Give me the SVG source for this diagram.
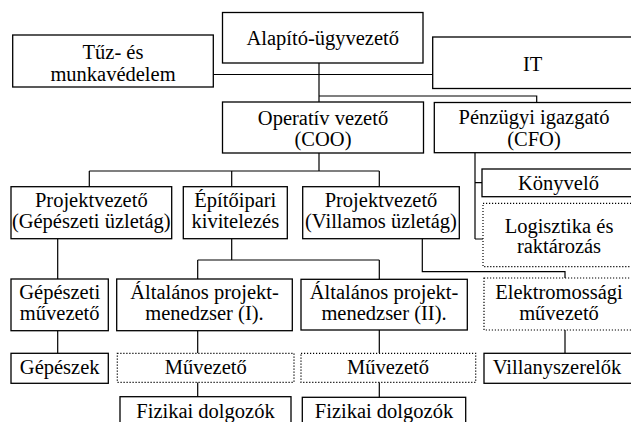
<svg xmlns="http://www.w3.org/2000/svg" width="631" height="422" viewBox="0 0 631 422">
<style>
.b{fill:#fff;stroke:#000;stroke-width:1.3}
.d{fill:#fff;stroke:#000;stroke-width:1.2;stroke-dasharray:1.2 1.8}
.t{font-size:20.5px;fill:#000;text-anchor:middle}
.c{fill:none;stroke:#000;stroke-width:1.2}
</style>
<rect width="631" height="422" fill="#fff"/>
<g id="connectors">
<path class="c" d="M213.3 74.5H432.7M319 63V102M319 96H536.7V102.5"/>
<path class="c" d="M319 153V171M89.3 171H379.3M89.3 171V186.7M231.7 171V186.7M379.3 171V186.7"/>
<path class="c" d="M475 152.7V239M475 182.7H482M475 239H483"/>
<path class="c" d="M57.7 238.7V279M57.7 330.7V353.3"/>
<path class="c" d="M231.7 238.5V260M197.7 260H379.3M197.7 260V279M379.3 260V279.3"/>
<path class="c" d="M197.7 330.7V353.3M197.7 382.3V396.7M379.3 330V353.3M379.3 382.3V397.3"/>
<path class="c" d="M422.3 238.5V271.7H565V278M565 330V353.3"/>
</g>
<g font-family="Liberation Serif, Tinos, Times New Roman, DejaVu Serif, Noto Serif, serif">
<g id="alapito"><rect class="b" x="222.5" y="12.5" width="200.5" height="50.5"/><text class="t" x="322.7" y="45">Alapító-ügyvezető</text></g>
<g id="tuz"><rect class="b" x="12.7" y="35" width="200.6" height="52"/><text class="t" x="113" y="59">Tűz- és</text><text class="t" x="113" y="80.5">munkavédelem</text></g>
<g id="it"><rect class="b" x="432.7" y="37" width="210" height="51.5"/><text class="t" x="532.7" y="71">IT</text></g>
<g id="coo"><rect class="b" x="222.5" y="102" width="201" height="51"/><text class="t" x="323" y="124.5">Operatív vezető</text><text class="t" x="323" y="146">(COO)</text></g>
<g id="cfo"><rect class="b" x="434.3" y="102.5" width="210" height="50.2"/><text class="t" x="534" y="124">Pénzügyi igazgató</text><text class="t" x="534" y="145.5">(CFO)</text></g>
<g id="pv-gep"><rect class="b" x="11" y="186.7" width="160.7" height="52"/><text class="t" x="91.3" y="206.7">Projektvezető</text><text class="t" x="91.3" y="227.5">(Gépészeti üzletág)</text></g>
<g id="epito"><rect class="b" x="183.3" y="186.7" width="104" height="52"/><text class="t" x="235.3" y="206.7">Építőipari</text><text class="t" x="235.3" y="227.5">kivitelezés</text></g>
<g id="pv-vill"><rect class="b" x="302.7" y="186.7" width="156.6" height="52"/><text class="t" x="381" y="206.7">Projektvezető</text><text class="t" x="381" y="227.5">(Villamos üzletág)</text></g>
<g id="konyvelo"><rect class="b" x="482" y="169" width="160" height="27.7"/><text class="t" x="558.5" y="190">Könyvelő</text></g>
<g id="logisztika"><rect class="d" x="483" y="203.3" width="160" height="63.4"/><text class="t" x="559" y="232.7">Logisztika és</text><text class="t" x="559" y="253.3">raktározás</text></g>
<g id="gep-muv"><rect class="b" x="11" y="279" width="97.3" height="51.7"/><text class="t" x="59.7" y="298.5">Gépészeti</text><text class="t" x="59.7" y="320">művezető</text></g>
<g id="apm1"><rect class="b" x="116.7" y="279" width="175.6" height="51.7"/><text class="t" x="204.5" y="298.5">Általános projekt-</text><text class="t" x="204.5" y="320">menedzser (I).</text></g>
<g id="apm2"><rect class="b" x="301" y="279.3" width="166.3" height="50.7"/><text class="t" x="384" y="298.5">Általános projekt-</text><text class="t" x="384" y="320">menedzser (II).</text></g>
<g id="elektromos"><rect class="d" x="484" y="278" width="160" height="52"/><text class="t" x="559" y="298.5">Elektromossági</text><text class="t" x="559" y="320">művezető</text></g>
<g id="gepeszek"><rect class="b" x="11" y="353.3" width="97.3" height="30"/><text class="t" x="59.7" y="374">Gépészek</text></g>
<g id="muv1"><rect class="d" x="117.3" y="353.3" width="176.7" height="29"/><text class="t" x="205.7" y="374">Művezető</text></g>
<g id="muv2"><rect class="d" x="301" y="353.3" width="174.7" height="29"/><text class="t" x="388" y="374">Művezető</text></g>
<g id="villany"><rect class="b" x="484" y="353.3" width="160" height="30"/><text class="t" x="557" y="374">Villanyszerelők</text></g>
<g id="fiz1"><rect class="b" x="120" y="396.7" width="171" height="40"/><text class="t" x="205.5" y="418">Fizikai dolgozók</text></g>
<g id="fiz2"><rect class="b" x="302.3" y="397.3" width="163.4" height="40"/><text class="t" x="384" y="418">Fizikai dolgozók</text></g>
</g>
</svg>
